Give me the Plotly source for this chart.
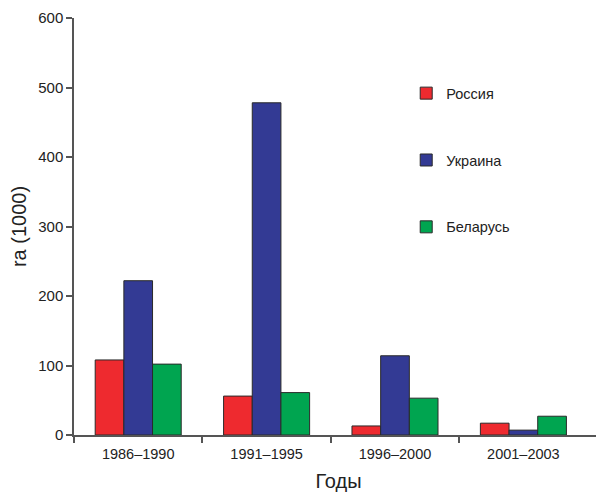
import plotly.graph_objects as go

categories = ["1986–1990", "1991–1995", "1996–2000", "2001–2003"]
series_names = ["Россия", "Украина", "Беларусь"]
russia = [108, 56, 13, 17]
ukraine = [222, 478, 114, 7]
belarus = [102, 61, 53, 27]
y_ticks = [0, 100, 200, 300, 400, 500, 600]

colors = ["#EE2A2F", "#333A94", "#00A550"]
values = [russia, ukraine, belarus]

fig = go.Figure()
xs = list(range(len(categories)))
for i, (name, vals) in enumerate(zip(series_names, values)):
    fig.add_trace(go.Bar(
        x=xs, y=vals, name=name, legendgroup=name,
        marker=dict(color=colors[i], line=dict(color="#2a2a2a", width=1)),
    ))

font_family = "Liberation Sans, Arial, sans-serif"
fig.update_layout(
    width=596, height=484,
    margin=dict(l=66, r=1, t=10, b=57),
    paper_bgcolor="white", plot_bgcolor="white",
    barmode="group", bargap=0.33, bargroupgap=0,
    font=dict(family=font_family, color="#222"),
    showlegend=True,
    legend=dict(x=0.628, y=0.858, xanchor="left", yanchor="top",
                font=dict(size=14.5, color="#222"), tracegroupgap=45,
                bgcolor="rgba(0,0,0,0)", itemwidth=30),
    xaxis=dict(
        range=[-0.5, 3.62], tickmode="array", tickvals=xs, ticktext=categories,
        ticks="", showline=True, linecolor="#555", linewidth=1.5,
        showgrid=False, zeroline=False, tickfont=dict(size=14.5),
        ticklabelstandoff=5,
        minor=dict(tickvals=[-0.5, 0.5, 1.5, 2.5], ticks="outside", ticklen=6,
                   tickcolor="#555", tickwidth=1.5, showgrid=False),
        title=dict(text="Годы", font=dict(size=20), standoff=14),
    ),
    yaxis=dict(
        range=[0, 600], tickmode="array", tickvals=y_ticks,
        ticks="outside", ticklen=6, tickcolor="#555", tickwidth=1.5,
        showline=True, linecolor="#555", linewidth=1.5,
        showgrid=False, zeroline=False, tickfont=dict(size=15),
        title=dict(text="ra (1000)", font=dict(size=20), standoff=8),
    ),
)

fig.write_html("out.html")
